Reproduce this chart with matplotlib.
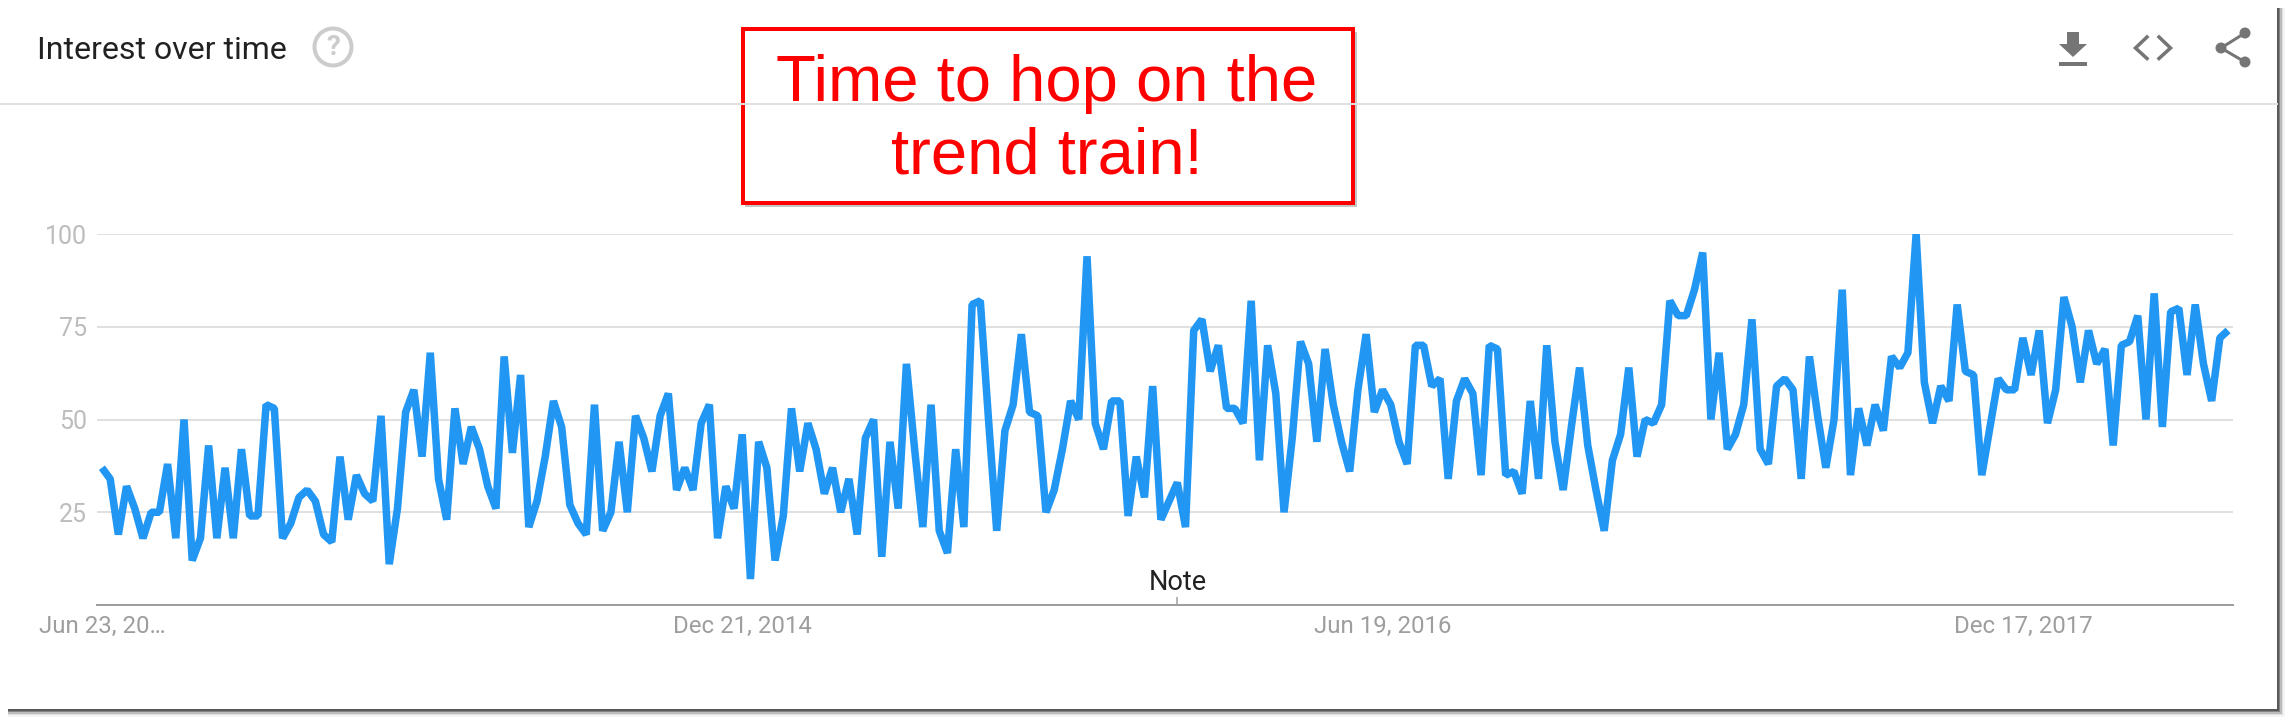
import matplotlib
matplotlib.use('Agg')
import matplotlib.pyplot as plt
import pandas as pd
from matplotlib.patches import Rectangle, Circle, Polygon

# weekly interest values
interest = [
    37, 34, 19, 32, 26, 18, 25, 25, 38, 18, 50, 12, 18, 43, 18, 37, 18, 42, 24, 24,
    54, 53, 18, 22, 29, 31, 28, 19, 17, 40, 23, 35, 30, 28, 51, 11, 26, 52, 58, 40,
    68, 34, 23, 53, 38, 48, 42, 32, 26, 67, 41, 62, 21, 28, 40, 55, 48, 27, 22, 19,
    54, 20, 25, 44, 25, 51, 45, 36, 51, 57, 31, 37, 31, 49, 54, 18, 32, 26, 46, 7,
    44, 37, 12, 24, 53, 36, 49, 42, 30, 37, 25, 34, 19, 45, 50, 13, 44, 26, 65, 42,
    21, 54, 20, 14, 42, 21, 81, 82, 50, 20, 47, 54, 73, 52, 51, 25, 31, 42, 55, 50,
    94, 49, 42, 55, 55, 24, 40, 29, 59, 23, 28, 33, 21, 74, 77, 63, 70, 53, 53, 49,
    82, 39, 70, 57, 25, 45, 71, 65, 44, 69, 54, 44, 36, 58, 73, 52, 58, 54, 44, 38,
    70, 70, 59, 61, 34, 55, 61, 57, 35, 70, 69, 35, 36, 30, 55, 34, 70, 44, 31, 48,
    64, 43, 31, 20, 39, 46, 64, 40, 50, 49, 54, 82, 78, 78, 85, 95, 50, 68, 42, 46,
    54, 77, 42, 38, 59, 61, 58, 34, 67, 51, 37, 50, 85, 35, 53, 43, 54, 47, 67, 64,
    68, 100, 60, 49, 59, 55, 81, 63, 62, 35, 48, 61, 58, 58, 72, 62, 74, 49, 58, 83,
    75, 60, 74, 65, 69, 43, 70, 71, 78, 50, 84, 48, 79, 80, 62, 81, 65, 55, 72, 74,
]
weeks = pd.date_range('2013-06-23', periods=len(interest), freq='7D')

y_ticks = [25, 50, 75, 100]
x_tick_dates = pd.to_datetime(['2013-06-23', '2014-12-21', '2016-06-19', '2017-12-17'])
x_tick_labels = ['Jun 23, 20\u2026', 'Dec 21, 2014', 'Jun 19, 2016', 'Dec 17, 2017']
note_date = pd.Timestamp('2015-12-27')

W, H = 2292, 722
CARD_R, CARD_B = 2277, 709
BLUE = '#2196F3'
ICON = '#757575'
px = 72 / 100  # one pixel in points

plt.rcParams['font.family'] = ['Roboto', 'DejaVu Sans']
fig = plt.figure(figsize=(W / 100, H / 100), dpi=100, facecolor='white')

# card, header and icons live on a pixel-sized background axes
bg = fig.add_axes([0, 0, 1, 1], zorder=0)
bg.set_xlim(0, W)
bg.set_ylim(H, 0)
bg.axis('off')

# card shadow on the right and the bottom
for grow, alpha in [(8, 0.05), (6, 0.10), (5, 0.20), (3, 0.40), (2, 0.50)]:
    bg.add_patch(Rectangle((8, 8), CARD_R - 8 + grow, CARD_B - 8 + grow, fc='#303030', ec='none', alpha=alpha))
bg.add_patch(Rectangle((0, 0), CARD_R, CARD_B, fc='white', ec='none'))

bg.plot([0, CARD_R], [104, 104], color='#e0e0e0', lw=2 * px)
bg.text(37, 59, 'Interest over time', fontsize=23, color='#212121', va='baseline', ha='left')

# help icon
bg.add_patch(Circle((333, 47), 18.5, fc='white', ec='#cccccc', lw=4 * px))
bg.text(333, 47.5, '?', fontsize=20, fontweight='bold', color='#cccccc', ha='center', va='center')

# download icon
bg.add_patch(Polygon([(2067, 32), (2079, 32), (2079, 44), (2087, 44), (2073, 57), (2059, 44), (2067, 44)],
                     fc=ICON, ec='none'))
bg.add_patch(Rectangle((2059, 62), 28, 4, fc=ICON, ec='none'))

# embed icon
bg.plot([2147, 2135.5, 2147], [37, 48, 58.5], color=ICON, lw=3.5 * px, solid_joinstyle='miter')
bg.plot([2159, 2170.5, 2159], [37, 48, 58.5], color=ICON, lw=3.5 * px, solid_joinstyle='miter')

# share icon
bg.plot([2245, 2221, 2245], [33, 48, 62], color=ICON, lw=3 * px)
for cx, cy in [(2245, 33), (2221, 48), (2245, 62)]:
    bg.add_patch(Circle((cx, cy), 5.5, fc=ICON, ec='none'))

# red call-out box
bg.add_patch(Rectangle((745, 32), 612, 175, fc='#a0a0a0', ec='none', alpha=0.6))
bg.add_patch(Rectangle((743, 29), 610, 174, fc='white', ec='#ff0000', lw=4 * px))
bg.text(1047, 100.5, 'Time to hop on the', family='Liberation Sans', fontsize=47, color='#ff0000',
        ha='center', va='baseline')
bg.text(1047, 173, 'trend train!', family='Liberation Sans', fontsize=47, color='#ff0000',
        ha='center', va='baseline')

# the chart itself
left, right, top, bottom = 97, 2233, 234, 605
ax = fig.add_axes([left / W, 1 - bottom / H, (right - left) / W, (bottom - top) / H], zorder=1)
ax.patch.set_alpha(0)
# bevel joins give the flat cut peaks of the original line
ax.plot(weeks, interest, color=BLUE, lw=7.5 * px, solid_joinstyle='bevel', solid_capstyle='butt', zorder=3)
step = weeks[1] - weeks[0]
ax.set_xlim(weeks[0] - step * 0.6, weeks[-1] + step * 0.6)
ax.set_ylim(0, 100)

ax.set_yticks(y_ticks)
ax.set_xticks(x_tick_dates)
ax.set_xticklabels(x_tick_labels)
ax.grid(axis='y', color='#e0e0e0', lw=2 * px, zorder=1)
ax.grid(axis='x', visible=False)
ax.tick_params(axis='y', length=0, pad=7, labelsize=18, labelcolor='#bdbdbd')
ax.tick_params(axis='x', length=0, pad=7, labelsize=17.3, labelcolor='#9e9e9e')
for side in ['top', 'left', 'right']:
    ax.spines[side].set_visible(False)
ax.spines['bottom'].set_color('#9e9e9e')
ax.spines['bottom'].set_linewidth(2 * px)

# annotation marker on the axis
ax.vlines(note_date, 0, 2.2, color='#9e9e9e', lw=1.5 * px)
ax.text(note_date, 4, 'Note', fontsize=19.5, color='#212121', ha='center', va='baseline')

fig.savefig('out.png', dpi=100)
